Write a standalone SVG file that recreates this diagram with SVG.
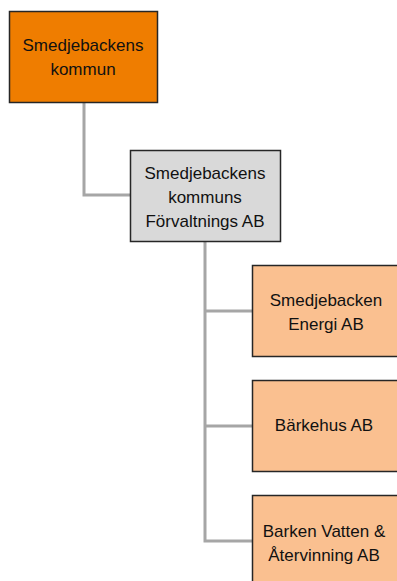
<svg xmlns="http://www.w3.org/2000/svg" width="397" height="581" viewBox="0 0 397 581">
<style>
.box{stroke:#262626;stroke-width:1.5}
.t{font-family:"Liberation Sans",Arial,sans-serif;font-size:17px;fill:#111;text-anchor:middle}
.c{fill:none;stroke:#A6A6A6;stroke-width:3}
</style>
<rect width="397" height="581" fill="#fff"/>
<g id="connectors">
<path class="c" d="M84,103 V195 H130"/>
<path class="c" d="M205,242 V541 H252"/>
<path class="c" d="M205,311 H252"/>
<path class="c" d="M205,426 H252"/>
</g>
<g id="n1">
<rect class="box" x="9.5" y="11.5" width="148" height="91" fill="#EF7D00"/>
<text class="t" x="83" y="51">Smedjebackens</text>
<text class="t" x="83" y="75">kommun</text>
</g>
<g id="n2">
<rect class="box" x="130.5" y="150.5" width="150" height="91" fill="#D9D9D9"/>
<text class="t" x="205" y="179">Smedjebackens</text>
<text class="t" x="205" y="203">kommuns</text>
<text class="t" x="205" y="227">Förvaltnings AB</text>
</g>
<g id="n3">
<rect class="box" x="252.5" y="265.5" width="150" height="91" fill="#FAC090"/>
<text class="t" x="326" y="306">Smedjebacken</text>
<text class="t" x="326" y="330">Energi AB</text>
</g>
<g id="n4">
<rect class="box" x="252.5" y="380.5" width="150" height="91" fill="#FAC090"/>
<text class="t" x="324" y="431">Bärkehus AB</text>
</g>
<g id="n5">
<rect class="box" x="252.5" y="495.5" width="150" height="91" fill="#FAC090"/>
<text class="t" x="324" y="537">Barken Vatten &amp;</text>
<text class="t" x="324" y="561">Återvinning AB</text>
</g>
</svg>
